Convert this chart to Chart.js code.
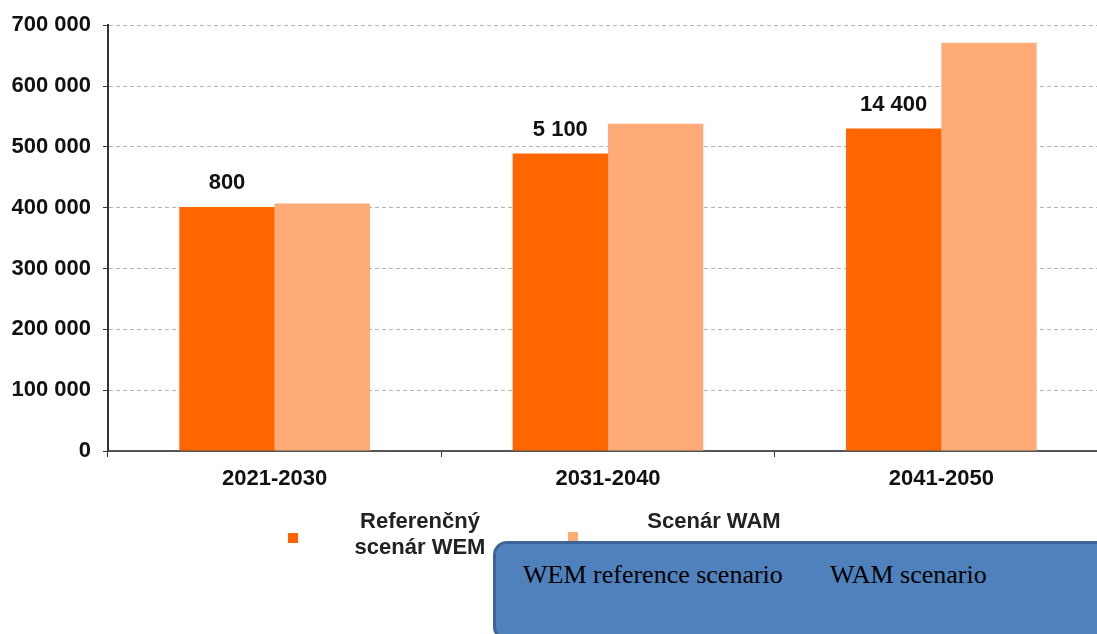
<!DOCTYPE html>
<html>
<head>
<meta charset="utf-8">
<script src="https://cdn.jsdelivr.net/npm/chart.js@4.4.0/dist/chart.umd.min.js"></script>
<style>
  html, body { margin: 0; padding: 0; background: #fff; overflow: hidden; }
  #wrap { position: relative; width: 1097px; height: 634px; overflow: hidden; }
  #chart { position: absolute; left: 0; top: 0; }
  #note {
    position: absolute; left: 493px; top: 541px; width: 640px; height: 100px;
    background: #4F81BD; border: 3px solid #3C6494; border-radius: 14px;
    box-sizing: border-box;
    font-family: "Liberation Serif", "Times New Roman", serif; font-size: 26px; color: #000;
  }
  #note span { position: absolute; top: 16px; }
</style>
</head>
<body>
<div id="wrap">
  <canvas id="chart" width="1108" height="634"></canvas>
  <div id="note"><span style="left:27px">WEM reference scenario</span><span style="left:334px">WAM scenario</span></div>
</div>
<script>
const categories = ['2021-2030', '2031-2040', '2041-2050'];
const wemValues = [401000, 489000, 530000];
const wamValues = [407000, 538000, 671000];
const barLabels = ['800', '5 100', '14 400'];
const seriesNames = ['Referenčný scenár WEM', 'Scenár WAM'];
const legendLines = [['Referenčný', 'scenár WEM'], ['Scenár WAM']];

const fmt = v => String(v).replace(/\B(?=(\d{3})+(?!\d))/g, ' ');
const FONT = '"Liberation Sans", Arial, sans-serif';

// labels above the WEM bars
const barLabelPlugin = {
    id: 'barLabels',
    afterDatasetsDraw(chart) {
        const ctx = chart.ctx;
        const meta = chart.getDatasetMeta(0);
        ctx.save();
        ctx.font = 'bold 22px ' + FONT;
        ctx.fillStyle = '#111';
        ctx.textAlign = 'center';
        ctx.textBaseline = 'middle';
        meta.data.forEach((bar, i) => {
            ctx.fillText(barLabels[i], bar.x, bar.y - 24);
        });
        ctx.restore();
    }
};

// legend under the axis, two-line label like the original
const legendPlugin = {
    id: 'bottomLegend',
    afterDraw(chart) {
        const ctx = chart.ctx;
        const spots = [{ mx: 293, my: 538, tx: 420 }, { mx: 573, my: 537, tx: 714 }];
        ctx.save();
        ctx.font = 'bold 22px ' + FONT;
        ctx.textAlign = 'center';
        ctx.textBaseline = 'middle';
        chart.data.datasets.forEach((ds, i) => {
            const s = spots[i];
            ctx.fillStyle = ds.backgroundColor;
            ctx.fillRect(s.mx - 5, s.my - 5, 10, 10);
            ctx.fillStyle = '#222';
            legendLines[i].forEach((line, j) => ctx.fillText(line, s.tx, 522 + j * 26));
        });
        ctx.restore();
    }
};

new Chart(document.getElementById('chart'), {
    type: 'bar',
    data: {
        labels: categories,
        datasets: [
            { label: seriesNames[0], data: wemValues, backgroundColor: '#FF6600' },
            { label: seriesNames[1], data: wamValues, backgroundColor: '#FFAB77' }
        ]
    },
    options: {
        responsive: false,
        animation: false,
        layout: { padding: { top: 23, right: 0, left: 0, bottom: 0 } },
        categoryPercentage: 0.572,
        barPercentage: 1,
        plugins: {
            legend: { display: false },
            tooltip: { enabled: false }
        },
        scales: {
            x: {
                afterFit: s => { s.height = 634 - 451; },
                grid: { display: true, drawOnChartArea: false, offset: true, tickLength: 6, color: '#333' },
                border: { color: '#555', width: 2 },
                ticks: { color: '#111', padding: 9, font: { family: FONT, size: 22, weight: 'bold' } }
            },
            y: {
                min: 0,
                max: 700000,
                afterFit: s => { s.width = 108; },
                ticks: {
                    stepSize: 100000,
                    color: '#111',
                    padding: 12,
                    font: { family: FONT, size: 22, weight: 'bold' },
                    callback: v => fmt(v)
                },
                grid: { color: '#b4b4b4', lineWidth: 1, tickLength: 5, tickColor: '#333', tickBorderDash: [] },
                border: { color: '#333', width: 2, dash: [4, 3] }
            }
        }
    },
    plugins: [barLabelPlugin, legendPlugin]
});
</script>
</body>
</html>
